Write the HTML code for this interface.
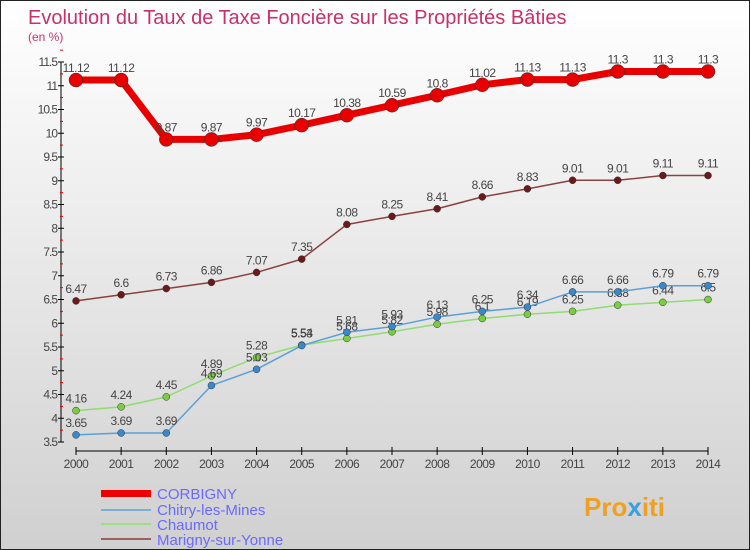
<!DOCTYPE html>
<html><head><meta charset="utf-8"><style>
body{margin:0}
#c{width:750px;height:550px;position:relative;overflow:hidden;box-sizing:border-box;border:1px solid #222;background:linear-gradient(#ffffff,#d0d0d0);font-family:"Liberation Sans",sans-serif}
</style></head><body>
<div id="c">
<svg id="s" width="750" height="550" style="position:absolute;left:0;top:0">
<text x="27" y="23" font-size="20" fill="#c8306a">Evolution du Taux de Taxe Foncière sur les Propriétés Bâties</text>
<text x="27" y="40" font-size="12" fill="#c8306a">(en %)</text>
<g id="axes"></g><g id="plot"></g>
<g>
<rect x="100" y="489" width="50" height="7" fill="#e00"/>
<text x="156" y="498" font-size="15" fill="#6a6aff">CORBIGNY</text>
<rect x="100" y="508" width="50" height="2" fill="#7ab0d6"/>
<text x="156" y="514" font-size="15" fill="#6a6aff">Chitry-les-Mines</text>
<rect x="100" y="522" width="50" height="2" fill="#9be080"/>
<text x="156" y="529" font-size="15" fill="#6a6aff">Chaumot</text>
<rect x="100" y="537" width="50" height="2" fill="#9a6060"/>
<text x="156" y="544" font-size="15" fill="#6a6aff">Marigny-sur-Yonne</text>
</g>
<text x="583" y="515" font-size="26" font-weight="bold" fill="#f0a020">Pro<tspan fill="#3aa0e0">x</tspan>iti</text>
</svg>
</div>
<script>
const years=[2000,2001,2002,2003,2004,2005,2006,2007,2008,2009,2010,2011,2012,2013,2014];
const corbigny=[11.12,11.12,9.87,9.87,9.97,10.17,10.38,10.59,10.8,11.02,11.13,11.13,11.3,11.3,11.3];
const chitry=[3.65,3.69,3.69,4.69,5.03,5.53,5.81,5.93,6.13,6.25,6.34,6.66,6.66,6.79,6.79];
const chaumot=[4.16,4.24,4.45,4.89,5.28,5.54,5.68,5.82,5.98,6.1,6.19,6.25,6.38,6.44,6.5];
const marigny=[6.47,6.6,6.73,6.86,7.07,7.35,8.08,8.25,8.41,8.66,8.83,9.01,9.01,9.11,9.11];
const yTicks=[3.5,4,4.5,5,5.5,6,6.5,7,7.5,8,8.5,9,9.5,10,10.5,11,11.5];
const NS="http://www.w3.org/2000/svg";
const X=i=>75+i*(707-75)/(years.length-1);
const Y=v=>441-(v-3.5)*47.5;
function mk(tag,attrs,parent,text){const e=document.createElementNS(NS,tag);for(const k in attrs)e.setAttribute(k,attrs[k]);if(text!==undefined)e.textContent=text;parent.appendChild(e);return e;}
const ax=document.getElementById('axes'),pl=document.getElementById('plot');
let l=mk('line',{x1:60,y1:Y(11.5),x2:60,y2:Y(3.5),stroke:'#000'},ax);


yTicks.forEach(t=>{
  mk('line',{x1:57,x2:63,y1:Y(t),y2:Y(t),stroke:'#000'},ax);
  mk('line',{x1:59,x2:62,y1:Y(t+0.25),y2:Y(t+0.25),stroke:'#e00'},ax);
  const tx=mk('text',{x:56,y:Y(t)+4,'font-size':12,'text-anchor':'end',fill:'#444','letter-spacing':'-1'},ax,String(t));
  
  
});
let xl=mk('line',{x1:X(0),x2:X(years.length-1),y1:450,y2:450,stroke:'#000'},ax);


years.forEach((yr,i)=>{
  mk('line',{x1:X(i),x2:X(i),y1:446,y2:454,stroke:'#000'},ax);
  const tx=mk('text',{x:X(i),y:467,'font-size':12,'text-anchor':'middle',fill:'#444','letter-spacing':'-0.5'},ax,String(yr));
  
  
});
function series(vals,name,color,w,r,dot){
  const g=mk('g',{},pl);
  
  
  const p=mk('polyline',{points:vals.map((v,i)=>X(i)+','+Y(v)).join(' '),fill:'none',stroke:color,'stroke-width':w,'stroke-linejoin':'round'},g);
  
  
  vals.forEach((v,i)=>{
    const c=mk('circle',{cx:X(i),cy:Y(v),r:r,fill:dot,stroke:'#333','stroke-width':0.5},g);
    
    
    const t=mk('text',{x:X(i),y:Y(v)-8,'font-size':12,'text-anchor':'middle',fill:'#444','letter-spacing':'-0.5'},g,String(v));
    
    
  });
}
series(marigny,'marigny','#8a4040',1.5,3.5,'#6a1a1a');
series(chaumot,'chaumot','#90dc70',1.5,3.5,'#7acc40');
series(chitry,'chitry','#5aa0d8',1.5,3.5,'#3a88cc');
series(corbigny,'corbigny','#e80000',7,7,'#e80000');
</script>
</body></html>
